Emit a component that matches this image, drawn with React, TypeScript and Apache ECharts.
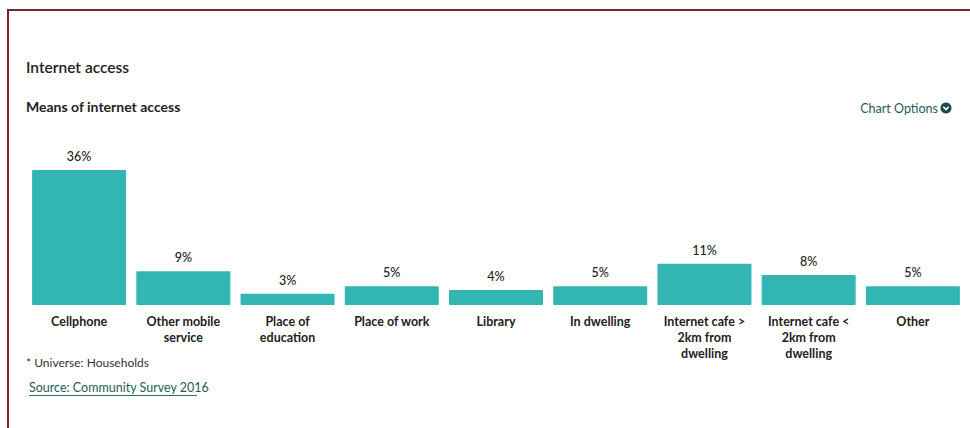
import React, { useEffect, useRef } from "react";
import * as echarts from "echarts";

const categories = [
  "Cellphone",
  "Other mobile\nservice",
  "Place of\neducation",
  "Place of work",
  "Library",
  "In dwelling",
  "Internet cafe >\n2km from\ndwelling",
  "Internet cafe <\n2km from\ndwelling",
  "Other",
];
const values = [36, 9, 3, 5, 4, 5, 11, 8, 5];

const FONT = "Lato";

export default function App() {
  const ref = useRef<HTMLDivElement>(null);
  useEffect(() => {
    if (!ref.current) return;
    const chart = echarts.init(ref.current, null, { renderer: "svg" });
    chart.setOption({
      animation: false,
      textStyle: { fontFamily: FONT },
      grid: { left: 27, right: 5, top: 170, bottom: 123, containLabel: false },
      xAxis: {
        type: "category",
        data: categories,
        axisLine: { show: false },
        axisTick: { show: false },
        axisLabel: {
          interval: 0,
          margin: 8,
          fontFamily: FONT,
          fontSize: 12.5,
          fontWeight: "bold",
          color: "#222",
          lineHeight: 16,
        },
      },
      yAxis: {
        type: "value",
        min: 0,
        max: 36,
        show: false,
        splitLine: { show: false },
      },
      series: [
        {
          type: "bar",
          data: values,
          barWidth: 94,
          itemStyle: { color: "#33b5b4", borderRadius: 1 },
          label: {
            show: true,
            position: "top",
            distance: 7,
            formatter: "{c}%",
            fontFamily: FONT,
            fontSize: 12.5,
            fontWeight: 500,
            color: "#222",
          },
        },
      ],
      graphic: [
        { type: "rect", shape: { x: 8, y: 9, width: 962, height: 2 }, style: { fill: "#6e2b2b" } },
        { type: "rect", shape: { x: 7, y: 9, width: 2, height: 419 }, style: { fill: "#6e2b2b" } },
        {
          type: "text",
          x: 26,
          y: 67,
          style: {
            text: "Internet access",
            fontFamily: FONT,
            fontSize: 15.5,
            fontWeight: 600,
            fill: "#222",
            textVerticalAlign: "middle",
          },
        },
        {
          type: "text",
          x: 26,
          y: 106,
          style: {
            text: "Means of internet access",
            fontFamily: FONT,
            fontSize: 14,
            fontWeight: "bold",
            fill: "#222",
            textVerticalAlign: "middle",
          },
        },
        {
          type: "text",
          x: 938,
          y: 108,
          style: {
            text: "Chart Options",
            fontFamily: FONT,
            fontSize: 12.5,
            fill: "#1f5c5a",
            textAlign: "right",
            textVerticalAlign: "middle",
          },
        },
        { type: "circle", shape: { cx: 946, cy: 108, r: 5.5 }, style: { fill: "#1d4a4a" } },
        {
          type: "polyline",
          shape: { points: [[943.3, 106.8], [946, 109.5], [948.7, 106.8]] },
          style: { stroke: "#fff", lineWidth: 1.6, fill: "none" },
        },
        {
          type: "text",
          x: 26,
          y: 362,
          style: {
            text: "* Universe: Households",
            fontFamily: FONT,
            fontSize: 12,
            fill: "#333",
            textVerticalAlign: "middle",
          },
        },
        {
          type: "text",
          x: 29,
          y: 387,
          style: {
            text: "Source: Community Survey 2016",
            fontFamily: FONT,
            fontSize: 12.5,
            fill: "#1f5c5a",
            textVerticalAlign: "middle",
          },
        },
        { type: "rect", shape: { x: 29, y: 395, width: 168, height: 1 }, style: { fill: "#2f6e6b" } },
      ],
    });
    return () => chart.dispose();
  }, []);
  return (
    <div
      ref={ref}
      style={{ width: 970, height: 428, position: "absolute", left: 0, top: 0, background: "#fff" }}
    />
  );
}
